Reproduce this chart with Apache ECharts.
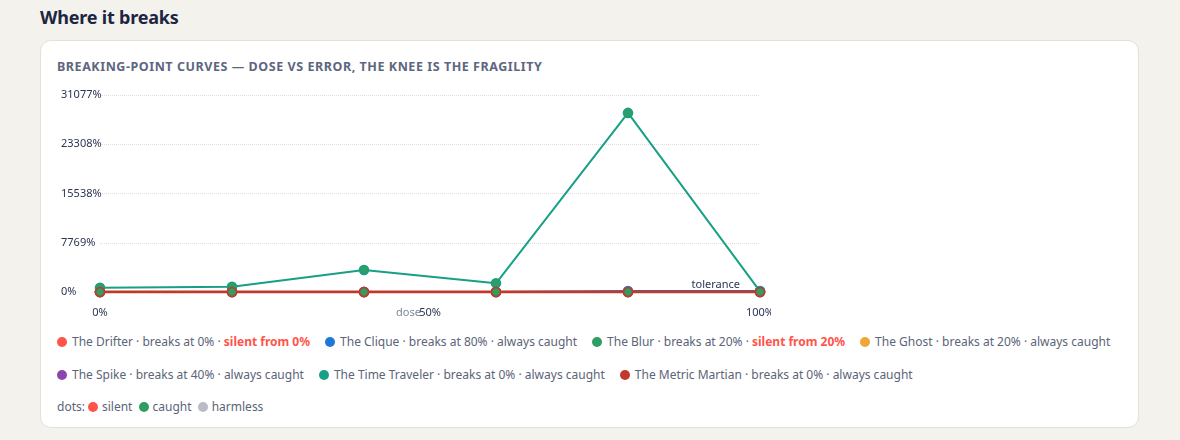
<!DOCTYPE html>
<html>
<head>
<meta charset="utf-8">
<script src="https://cdn.jsdelivr.net/npm/echarts@6/dist/echarts.min.js"></script>
<style>
  html, body { margin:0; padding:0; background:#f4f2ec; font-family:"Noto Sans", "Open Sans", sans-serif; }
  body { width:1180px; height:440px; position:relative; overflow:hidden; }
  h2 { position:absolute; left:40px; top:5px; margin:0; font-size:18px; font-weight:700; color:#1d2542; letter-spacing:-0.2px; }
  .card { position:absolute; left:40px; top:40px; width:1097px; height:386px; background:#fff; border:1px solid #e4e1d7; border-radius:11px; }
  .ctitle { position:absolute; left:16px; top:17px; font-size:12.5px; font-weight:700; color:#5d6680; letter-spacing:0.55px; text-transform:uppercase; }
  #chart { position:absolute; left:16px; top:44px; width:714px; height:240px; }
  .legend { position:absolute; left:16px; top:291px; width:1066px; font-size:12px; color:#5b6478; }
  .row { display:flex; flex-wrap:wrap; column-gap:15px; row-gap:14px; }
  .item { display:block; white-space:nowrap; height:19px; line-height:19px; }
  .dot { display:inline-block; width:10px; height:10px; border-radius:50%; margin-right:5px; vertical-align:-1px; }
  .silent { color:#ff5449; font-weight:700; }
  .dots { margin-top:13px; height:19px; line-height:19px; }
  .dots .dot { margin-left:3px; margin-right:4px; }
</style>
</head>
<body>
<h2>Where it breaks</h2>
<div class="card">
  <div class="ctitle">Breaking-point curves — dose vs error, the knee is the fragility</div>
  <div id="chart"></div>
  <div class="legend">
    <div class="row" id="legendRow"></div>
    <div class="dots">dots:<span class="dot" style="background:#ff5449"></span>silent <span class="dot" style="background:#2e9e62"></span>caught <span class="dot" style="background:#b9bcc8"></span>harmless</div>
  </div>
</div>
<script>
// ---- data ----
const doses = [0, 20, 40, 60, 80, 100];
const seriesNames = ['The Drifter', 'The Clique', 'The Blur', 'The Ghost', 'The Spike', 'The Time Traveler', 'The Metric Martian'];
const seriesColors = ['#ff5449', '#1f78d8', '#2e9e62', '#f0a73a', '#8e44ad', '#17a086', '#c0392b'];
const breaksAt = ['0%', '80%', '20%', '20%', '40%', '0%', '0%'];
const silentFrom = ['0%', null, '20%', null, null, null, null];
const drifter = [0, 0, 0, 0, 0, 0];
const clique = [0, 0, 0, 0, 150, 150];
const blur = [0, 0, 0, 0, 0, 0];
const ghost = [0, 0, 0, 0, 0, 0];
const spike = [0, 0, 0, 0, 0, 0];
const timeTraveler = [680, 840, 3470, 1370, 28252, 100];
const metricMartian = [0, 0, 0, 0, 0, 0];
// dot status per point: s = silent, c = caught, h = harmless
const drifterDots = ['s', 's', 's', 's', 's', 's'];
const cliqueDots = ['h', 'h', 'h', 'h', 'c', 'c'];
const blurDots = ['h', 's', 's', 's', 's', 's'];
const ghostDots = ['h', 'c', 'c', 'c', 'c', 'c'];
const spikeDots = ['h', 'h', 'c', 'c', 'c', 'c'];
const timeTravelerDots = ['c', 'c', 'c', 'c', 'c', 'c'];
const metricMartianDots = ['c', 'c', 'c', 'c', 'c', 'c'];
const yMax = 31076.9;
const yTickLabels = ['0%', '7769%', '15538%', '23308%', '31077%'];
const xTickLabels = ['0%', '50%', '100%'];
const toleranceValue = 0;

const allValues = [drifter, clique, blur, ghost, spike, timeTraveler, metricMartian];
const allDots = [drifterDots, cliqueDots, blurDots, ghostDots, spikeDots, timeTravelerDots, metricMartianDots];
const dotColors = { s: '#ff5449', c: '#2e9e62', h: '#b9bcc8' };

// legend (HTML)
const row = document.getElementById('legendRow');
seriesNames.forEach((n, i) => {
  const el = document.createElement('span');
  el.className = 'item';
  const tail = silentFrom[i] ? '<span class="silent">silent from ' + silentFrom[i] + '</span>' : 'always caught';
  el.innerHTML = '<span class="dot" style="background:' + seriesColors[i] + '"></span>' + n + ' · breaks at ' + breaksAt[i] + ' · ' + tail;
  row.appendChild(el);
});

const chart = echarts.init(document.getElementById('chart'));
const interval = yMax / 4;
const series = seriesNames.map((n, i) => ({
  name: n,
  type: 'line',
  data: doses.map((d, j) => ({
    value: [d, allValues[i][j]],
    itemStyle: { color: dotColors[allDots[i][j]], borderColor: seriesColors[i], borderWidth: 1.6 }
  })),
  symbol: 'circle',
  symbolSize: 9,
  lineStyle: { color: seriesColors[i], width: i === 6 ? 3 : 2 },
  itemStyle: { color: seriesColors[i] },
  z: 2 + i,
  animation: false,
  markLine: i === 0 ? {
    silent: true,
    symbol: 'none',
    data: [{ yAxis: toleranceValue }],
    lineStyle: { color: '#9aa0b0', type: 'dashed', width: 1 },
    label: { formatter: 'tolerance', position: 'insideEndTop', color: '#2c3550', fontSize: 11, fontFamily: 'Noto Sans', distance: [20, 2] }
  } : undefined
}));

chart.setOption({
  animation: false,
  grid: { left: 43, right: 11, top: 10, bottom: 33, outerBoundsMode: 'none', containLabel: false },
  xAxis: {
    type: 'value', min: 0, max: 100, interval: 50,
    name: 'dose', nameLocation: 'middle', nameGap: 15, nameMoveOverlap: false,
    nameTextStyle: { color: '#7e8598', fontSize: 11, fontFamily: 'Noto Sans', align: 'right', verticalAlign: 'top', padding: [0, 9, 0, 0] },
    axisLine: { show: false }, axisTick: { show: false }, splitLine: { show: false },
    axisLabel: { color: '#2c3550', fontSize: 11, fontFamily: 'Noto Sans', margin: 15,
      formatter: v => xTickLabels[Math.round(v / 50)] }
  },
  yAxis: {
    type: 'value', min: 0, max: yMax, interval: interval,
    axisLine: { show: false }, axisTick: { show: false },
    splitLine: { lineStyle: { color: '#e2dfd8', type: 'dotted' } },
    axisLabel: { color: '#2c3550', fontSize: 11, fontFamily: 'Noto Sans', align: 'left', margin: 39,
      formatter: v => yTickLabels[Math.round(v / interval)] }
  },
  series: series
});
</script>
</body>
</html>
